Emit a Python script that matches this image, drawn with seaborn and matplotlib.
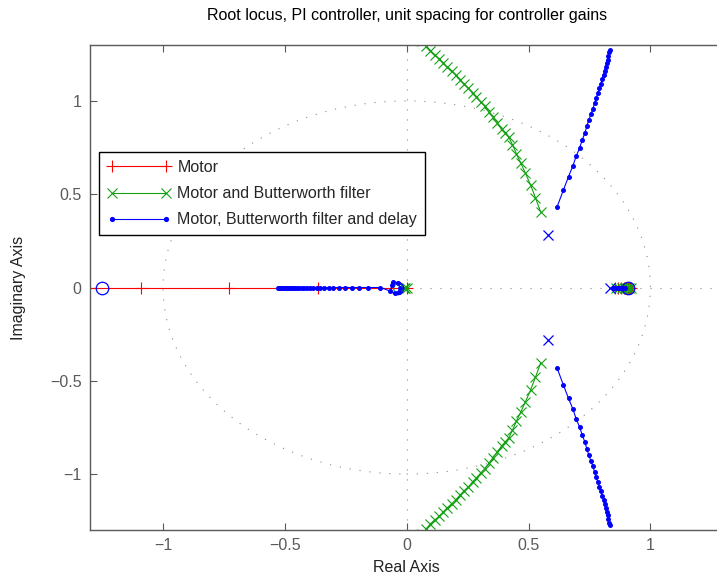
import numpy as np
import matplotlib
matplotlib.use("Agg")
import matplotlib.pyplot as plt
from matplotlib.lines import Line2D
from matplotlib.patches import Circle
import seaborn as sns

sns.set_theme(style="white")
plt.rcParams['font.family'] = ['Liberation Sans', 'DejaVu Sans']

title = "Root locus, PI controller, unit spacing for controller gains"
series_names = ["Motor", "Motor and Butterworth filter",
                "Motor, Butterworth filter and delay"]
tick_values = [-1, -0.5, 0, 0.5, 1]
tick_labels = ["\u22121", "\u22120.5", "0", "0.5", "1"]

# Motor (red +): real branch from z=0 going left, and the cluster near z=0.9
motor_left_x = [0.0, -0.365, -0.73, -1.09, -1.455]
motor_right_x = [0.855, 0.868, 0.88, 0.891, 0.9, 0.908, 0.915, 0.922]
motor_zero_x = [0.905]

# Motor and Butterworth filter (green x): complex pair, upper branch
butter_up_x = [0.550, 0.528, 0.508, 0.487, 0.468, 0.450, 0.434, 0.419, 0.404,
               0.389, 0.371, 0.354, 0.338, 0.320, 0.303, 0.286, 0.270, 0.252,
               0.234, 0.218, 0.201, 0.184, 0.166, 0.149, 0.133, 0.115, 0.097,
               0.081, 0.064]
butter_up_y = [0.403, 0.482, 0.550, 0.613, 0.667, 0.717, 0.765, 0.805, 0.828,
               0.851, 0.882, 0.912, 0.941, 0.972, 0.995, 1.020, 1.043, 1.070,
               1.091, 1.114, 1.138, 1.160, 1.181, 1.204, 1.226, 1.246, 1.267,
               1.294, 1.320]
butter_near0_x = [0.0, -0.006, -0.012]
butter_right_x = [0.86, 0.872, 0.884, 0.894, 0.903, 0.912, 0.92]
butter_zero_x = [-0.036, 0.898]

# Motor, Butterworth filter and delay (blue .)
delay_up_x = [0.617, 0.643, 0.664, 0.682, 0.695, 0.709, 0.720, 0.731, 0.739,
              0.747, 0.756, 0.764, 0.771, 0.777, 0.784, 0.791, 0.797, 0.802,
              0.808, 0.812, 0.816, 0.820, 0.824, 0.828, 0.832, 0.835]
delay_up_y = [0.432, 0.523, 0.595, 0.652, 0.703, 0.747, 0.790, 0.828, 0.864,
              0.898, 0.930, 0.959, 0.988, 1.014, 1.043, 1.068, 1.093, 1.117,
              1.140, 1.161, 1.183, 1.203, 1.222, 1.242, 1.260, 1.271]
delay_real_x = [-0.529, -0.526, -0.523, -0.519, -0.515, -0.511, -0.506, -0.501,
                -0.495, -0.489, -0.482, -0.475, -0.467, -0.459, -0.450, -0.441,
                -0.431, -0.420, -0.409, -0.397, -0.384, -0.370, -0.355, -0.339,
                -0.321, -0.301, -0.279, -0.254, -0.226, -0.194, -0.157, -0.108,
                -0.070, -0.050, -0.032, -0.028, -0.036, -0.056, -0.062]
delay_real_y = [0.0] * 32 + [-0.018, -0.032, -0.022, 0.0, 0.022, 0.031, 0.012]
delay_right_x = [0.848, 0.856, 0.863, 0.87, 0.876, 0.882, 0.887, 0.892, 0.897]
delay_pole_x = [0.834, 0.579, 0.579]
delay_pole_y = [0.0, 0.28, -0.28]
delay_zero_x = [-1.25, -0.042, 0.91]

red, green, blue = "#ff0000", "#12a012", "#0000ff"
grid_gray = "#8a8a8a"
axis_gray = "#5a5a5a"
fs = 11.5

fig = plt.figure(figsize=(7.17, 5.81), dpi=100)
ax = fig.add_axes([90 / 717, 51 / 581, 633.5 / 717, 485 / 581])


def branch(x, y, color, marker, ms, mew=0.8):
    sns.lineplot(x=x, y=y, sort=False, estimator=None, color=color,
                 marker=marker, markersize=ms, markeredgewidth=mew,
                 markeredgecolor=color, markerfacecolor=color,
                 linewidth=0.8, ax=ax)


def marks(x, y, color, marker, ms, hollow=False):
    sns.lineplot(x=x, y=y, sort=False, estimator=None, color=color,
                 marker=marker, markersize=ms, markeredgewidth=0.9,
                 markeredgecolor=color,
                 markerfacecolor="none" if hollow else color,
                 linestyle="none", ax=ax)


# zgrid style dotted lines
dots = (0, (1, 8))
ax.axhline(0, color=grid_gray, lw=0.8, ls=dots, zorder=0)
ax.axvline(0, color=grid_gray, lw=0.8, ls=dots, zorder=0)
ax.add_patch(Circle((0, 0), 1, fill=False, ec=grid_gray, lw=0.8, ls=dots,
                    zorder=0))

# motor
branch(motor_left_x, [0.0] * len(motor_left_x), red, "+", 9)
branch(motor_right_x, [0.0] * len(motor_right_x), red, "+", 9)
marks(motor_zero_x, [0.0], red, "o", 8, hollow=True)

# motor + butterworth
branch(butter_up_x, butter_up_y, green, "x", 7)
branch(butter_up_x, [-v for v in butter_up_y], green, "x", 7)
branch(butter_near0_x, [0.0] * len(butter_near0_x), green, "x", 7)
branch(butter_right_x, [0.0] * len(butter_right_x), green, "x", 7)
marks(butter_zero_x, [0.0, 0.0], green, "o", 7, hollow=True)

# motor + butterworth + delay
branch(delay_up_x, delay_up_y, blue, ".", 5.5)
branch(delay_up_x, [-v for v in delay_up_y], blue, ".", 5.5)
branch(delay_real_x, delay_real_y, blue, ".", 5.5)
branch(delay_right_x, [0.0] * len(delay_right_x), blue, ".", 5.5)
marks(delay_pole_x, delay_pole_y, blue, "x", 7)
marks(delay_zero_x, [0.0] * len(delay_zero_x), blue, "o", 9, hollow=True)

ax.set_xlim(-1.3, 1.3)
ax.set_ylim(-1.3, 1.3)
ax.set_xticks(tick_values, labels=tick_labels)
ax.set_yticks(tick_values, labels=tick_labels)
ax.tick_params(direction="in", length=5, width=0.8, colors=axis_gray,
               labelsize=fs, pad=6, top=True, right=True,
               bottom=True, left=True)
for s in ax.spines.values():
    s.set_color(axis_gray)
    s.set_linewidth(1.0)

ax.set_title(title, fontsize=fs, color="black", pad=18)
ax.set_xlabel("Real Axis", fontsize=fs, color="#222222", labelpad=5)
ax.set_ylabel("Imaginary Axis", fontsize=fs, color="#222222", labelpad=17)

handles = [
    Line2D([], [], color=red, marker="+", ms=9, mew=0.8, lw=0.8),
    Line2D([], [], color=green, marker="x", ms=7, mew=0.8, lw=0.8),
    Line2D([], [], color=blue, marker=".", ms=5.5, lw=0.8),
]
leg = ax.legend(handles, series_names, loc="upper left",
                bbox_to_anchor=(0.0142, 0.7794), borderaxespad=0,
                frameon=True, fancybox=False, edgecolor="black",
                framealpha=1, handlelength=4.0, numpoints=2, fontsize=fs,
                borderpad=0.5, labelspacing=0.7, handletextpad=0.4)
leg.get_frame().set_linewidth(1.0)

fig.savefig("out.png", dpi=100)
